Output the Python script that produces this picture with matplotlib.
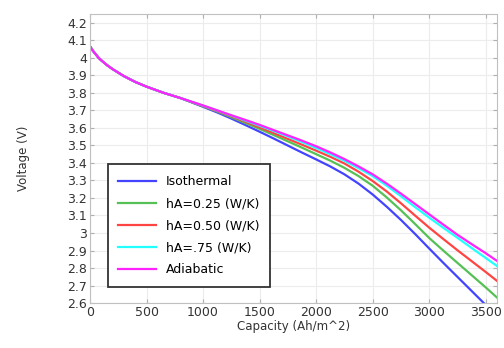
import numpy as np
import matplotlib
matplotlib.use('Agg')
import matplotlib.pyplot as plt

# capacity points (Ah/m^2), shared by all curves
capacity = [0, 25, 50, 75, 100, 150, 200, 300, 400, 500, 650, 800,
            1000, 1125, 1250, 1375, 1500, 1625, 1750, 1875,
            2000, 2125, 2250, 2375, 2500, 2625, 2750, 2875,
            3000, 3125, 3250, 3375, 3500, 3600]

head = [4.065, 4.04, 4.02, 4.0, 3.985, 3.958, 3.935, 3.895, 3.862, 3.835,
        3.80, 3.77]

isothermal = head + [3.720, 3.688, 3.653, 3.616, 3.578, 3.539, 3.499, 3.459,
                     3.420, 3.380, 3.335, 3.282, 3.220, 3.150, 3.075, 2.995,
                     2.912, 2.830, 2.750, 2.670, 2.590, 2.525]
ha025 = head + [3.723, 3.693, 3.661, 3.628, 3.594, 3.559, 3.523, 3.487,
                3.450, 3.413, 3.372, 3.325, 3.270, 3.203, 3.130, 3.052,
                2.972, 2.900, 2.830, 2.760, 2.690, 2.632]
ha050 = head + [3.725, 3.696, 3.666, 3.635, 3.603, 3.570, 3.537, 3.504,
                3.470, 3.435, 3.397, 3.350, 3.297, 3.237, 3.170, 3.100,
                3.031, 2.966, 2.902, 2.840, 2.778, 2.727]
ha075 = head + [3.727, 3.699, 3.670, 3.641, 3.612, 3.582, 3.551, 3.519,
                3.485, 3.450, 3.412, 3.370, 3.325, 3.270, 3.210, 3.148,
                3.088, 3.030, 2.973, 2.915, 2.858, 2.812]
adiabatic = head + [3.728, 3.700, 3.672, 3.645, 3.617, 3.587, 3.557, 3.527,
                    3.495, 3.460, 3.422, 3.380, 3.335, 3.282, 3.225, 3.166,
                    3.107, 3.048, 2.990, 2.937, 2.885, 2.841]

series = [isothermal, ha025, ha050, ha075, adiabatic]
names = ['Isothermal', 'hA=0.25 (W/K)', 'hA=0.50 (W/K)', 'hA=.75 (W/K)', 'Adiabatic']
colors = ['#4444ff', '#55c055', '#ff4444', '#22ffff', '#ff22ff']

xticks = [0, 500, 1000, 1500, 2000, 2500, 3000, 3500]
yticks = [2.6, 2.7, 2.8, 2.9, 3.0, 3.1, 3.2, 3.3, 3.4, 3.5, 3.6, 3.7, 3.8,
          3.9, 4.0, 4.1, 4.2]

fig = plt.figure(figsize=(5.04, 3.48), dpi=100)
ax = fig.add_axes([0.1786, 0.129, 0.8074, 0.831])

for vals, name, c in zip(series, names, colors):
    ax.plot(capacity, vals, color=c, lw=1.6, label=name)

ax.set_xlim(0, 3600)
ax.set_ylim(2.6, 4.25)
ax.set_xticks(xticks)
ax.set_yticks(yticks)
ax.set_yticklabels(['%g' % v for v in yticks])
ax.grid(True, color='#ececec', lw=0.8)
ax.set_axisbelow(True)
ax.tick_params(direction='in', top=True, right=True, length=3,
               color='#b0b0b0', labelsize=9, labelcolor='#333333', pad=2)
for s in ax.spines.values():
    s.set_color('#c0c0c0')

ax.set_xlabel('Capacity (Ah/m^2)', fontsize=8.5, color='#333333', labelpad=1)
ax.set_ylabel('Voltage (V)', fontsize=8.5, color='#333333', labelpad=27)

leg = ax.legend(loc='lower left', bbox_to_anchor=(0.028, 0.035), fontsize=9,
                fancybox=False, framealpha=1, edgecolor='#333333',
                handlelength=3, labelspacing=0.72, borderpad=0.85)
leg.get_frame().set_linewidth(1.3)

plt.savefig('out.png', dpi=100)
plt.close()
